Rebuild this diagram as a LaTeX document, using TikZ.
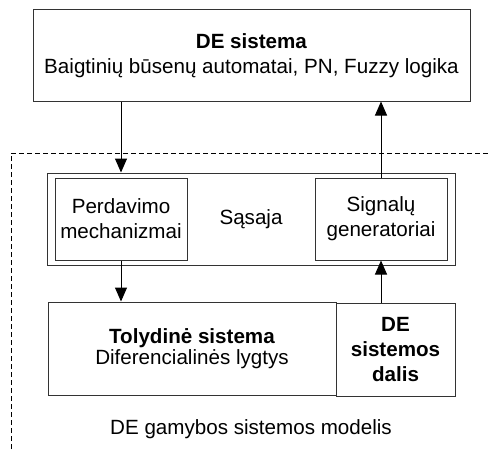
\documentclass[tikz,border=0pt]{standalone}
\usepackage{fontspec}
\setmainfont{Liberation Sans}
\usetikzlibrary{arrows.meta,positioning,calc}
\tikzset{
  blk/.style={draw=black!80, line width=0.5pt, inner sep=0pt, align=center, font=\fontsize{10.3}{12.5}\selectfont},
  lbl/.style={inner sep=0pt, align=center, font=\fontsize{10.3}{12.5}\selectfont},
  arrow/.style={-{Triangle[length=7pt,width=6pt]}, line width=0.5pt, draw=black},
  frame/.style={draw=black, line width=0.5pt, dash pattern=on 2.5pt off 1.5pt},
}

\begin{document}
\begin{tikzpicture}[x=0.5pt,y=-0.5pt]
  \useasboundingbox (0,0) rectangle (490,449);
  % model frame
  \draw[frame] (11,449) -- (11,153) -- (490,153);
  % blocks
  \node[blk, minimum width=218.5pt, minimum height=45.5pt] (de) at (251.5,55.5)
    {\textbf{DE sistema}\\Baigtinių būsenų automatai, PN, Fuzzy logika};
  \node[blk, minimum width=204pt, minimum height=46pt] (sasaja) at (251,219) {Sąsaja};
  \node[blk, minimum width=66pt, minimum height=41pt] (perd) at (121,219)
    {Perdavimo\\mechanizmai};
  \node[blk, minimum width=66pt, minimum height=41pt] (sig) at (381,219)
    {Signalų\\generatoriai};
  \node[blk, minimum width=144pt, minimum height=46.5pt,
    font=\fontsize{10.3}{10.5}\selectfont] (tol) at (192,348.5)
    {\textbf{Tolydinė sistema}\\Diferencialinės lygtys};
  \node[blk, minimum width=59.5pt, minimum height=46.5pt] (dep) at (395.5,349.5)
    {\textbf{DE}\\\textbf{sistemos}\\\textbf{dalis}};
  \node[lbl] (model) at (251,429) {DE gamybos sistemos modelis};
  % connections
  \draw[arrow] (de.south -| perd) -- (perd |- sasaja.north);
  \draw[arrow] (sig.north) -- (sig |- de.south);
  \draw[arrow] (perd.south) -- (perd |- tol.north);
  \draw[arrow] (dep.north -| sig) -- (sig.south);
\end{tikzpicture}
\end{document}
